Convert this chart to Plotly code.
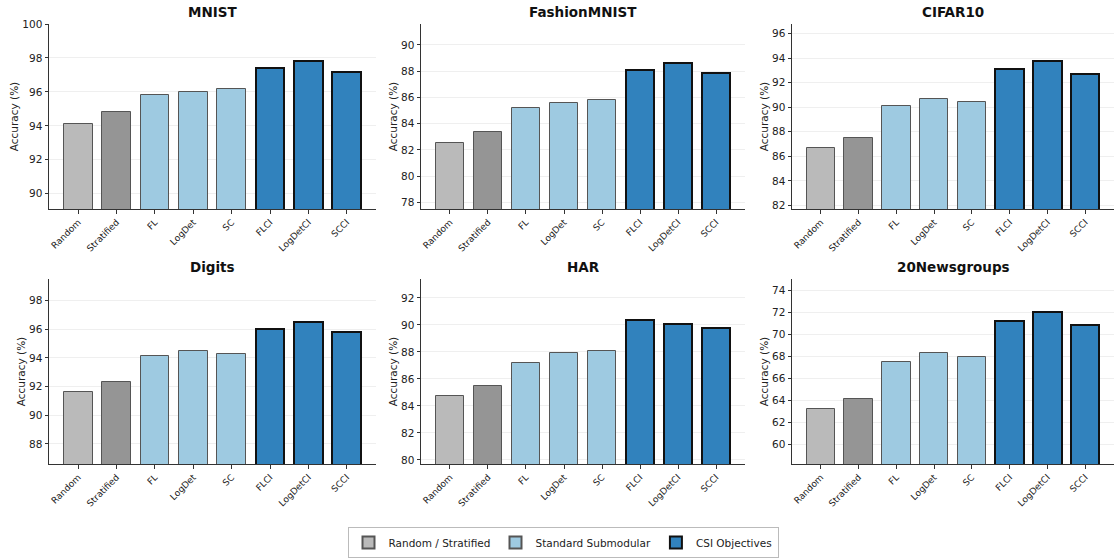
import plotly.graph_objects as go

methods = ["Random", "Stratified", "FL", "LogDet", "SC", "FLCI", "LogDetCI", "SCCI"]
datasets = ["MNIST", "FashionMNIST", "CIFAR10", "Digits", "HAR", "20Newsgroups"]

mnist = [94.1, 94.8, 95.8, 96.0, 96.2, 97.4, 97.8, 97.2]
fashion = [82.5, 83.4, 85.2, 85.6, 85.8, 88.1, 88.6, 87.9]
cifar10 = [86.7, 87.5, 90.1, 90.7, 90.4, 93.1, 93.8, 92.7]
digits = [91.6, 92.3, 94.1, 94.5, 94.3, 96.0, 96.5, 95.8]
har = [84.7, 85.5, 87.2, 87.9, 88.1, 90.4, 90.1, 89.8]
news20 = [63.2, 64.1, 67.5, 68.3, 67.9, 71.2, 72.0, 70.8]
values = [mnist, fashion, cifar10, digits, har, news20]

groups = [
    ("Random / Stratified", [0, 1], ["#bababa", "#959595"], "#555555", 1),
    ("Standard Submodular", [2, 3, 4], ["#9ecae1"] * 3, "#555555", 1),
    ("CSI Objectives", [5, 6, 7], ["#3182bd"] * 3, "#111111", 2),
]

W, H = 1115, 559
xpx = [(49, 376), (421, 745), (792, 1114)]
ypx = [(24, 209), (279, 464)]
xdoms = [(a / W, b / W) for a, b in xpx]
ydoms = [((H - b) / H, (H - a) / H) for a, b in ypx]

fig = go.Figure()
annotations = []
for i, (name, vals) in enumerate(zip(datasets, values)):
    r, c = divmod(i, 3)
    ax = "" if i == 0 else str(i + 1)
    xa, ya = "x" + ax, "y" + ax
    for gname, idx, cols, edge, lw in groups:
        fig.add_trace(go.Bar(
            x=[methods[k] for k in idx], y=[vals[k] for k in idx],
            marker=dict(color=cols, line=dict(color=edge, width=lw)),
            width=0.75, name=gname, legendgroup=gname, showlegend=(i == 0),
            xaxis=xa, yaxis=ya,
        ))
    lo = min(vals) - 5
    hi = min(100, max(vals) + 3)
    axis_common = dict(showline=True, linecolor="#333333", linewidth=1, ticks="outside",
                       ticklen=3.5, tickcolor="#333333", automargin=False)
    fig.update_layout({
        "xaxis" + ax: dict(domain=xdoms[c], anchor=ya, type="category", categoryorder="array",
                           categoryarray=methods, range=[-0.7625, 7.7625], tickangle=-45,
                           showgrid=False, tickfont=dict(size=9, color="#222", family="DejaVu Sans"),
                           **axis_common),
        "yaxis" + ax: dict(domain=ydoms[r], anchor=xa, range=[lo, hi], dtick=2, showgrid=True,
                           gridcolor="#efefef", gridwidth=1, zeroline=False,
                           tickfont=dict(size=10.5, color="#222", family="DejaVu Sans"),
                           title=dict(text="Accuracy (%)", font=dict(size=10.5, color="#222", family="DejaVu Sans"), standoff=1),
                           **axis_common),
    })
    annotations.append(dict(text="<b>%s</b>" % name, x=(xdoms[c][0] + xdoms[c][1]) / 2,
                            y=ydoms[r][1], xref="paper", yref="paper", xanchor="center", yanchor="bottom",
                            yshift=2, showarrow=False, font=dict(size=13.5, color="#111", family="DejaVu Sans")))

fig.update_layout(
    width=W, height=H, margin=dict(l=0, r=0, t=0, b=0, autoexpand=False),
    plot_bgcolor="white", paper_bgcolor="white", barmode="overlay", bargap=0,
    annotations=annotations,
    font=dict(family="DejaVu Sans"),
    hovermode=False,
    legend=dict(orientation="h", x=563 / W, xanchor="center", y=1 / H, yanchor="bottom",
                bordercolor="#bbbbbb", borderwidth=1, font=dict(size=10.5, color="#222"),
                itemsizing="constant", traceorder="normal", itemwidth=30),
)
fig.write_html("out.html", config={"displayModeBar": False},
               post_script="document.body.style.margin='0';document.body.style.overflow='hidden';")
